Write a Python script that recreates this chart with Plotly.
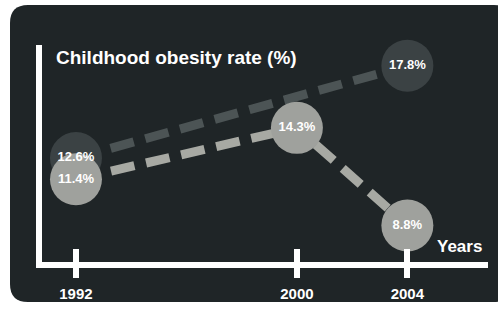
import plotly.graph_objects as go

# ---- data ----
years_a = [1992, 2004]
rate_a = [12.6, 17.8]
years_b = [1992, 2000, 2004]
rate_b = [11.4, 14.3, 8.8]
tick_years = [1992, 2000, 2004]
tick_labels = ["1992", "2000", "2004"]
title_text = "Childhood obesity rate (%)"
x_title = "Years"

BG = "#1f2527"
DARK_DOT = "#3b4244"
DARK_LINE = "#4c5455"
LIGHT_DOT = "#9fa19d"
LIGHT_LINE = "#a7a9a3"
FONT = "Liberation Sans, Arial, sans-serif"

fig = go.Figure()

# series A (dark)
fig.add_trace(go.Scatter(
    x=years_a, y=rate_a, mode="lines+markers",
    line=dict(color=DARK_LINE, width=9, dash="24px,12px"),
    marker=dict(size=52, color=DARK_DOT, line=dict(width=0)),
    hoverinfo="skip", showlegend=False, cliponaxis=False))

# series B (light)
fig.add_trace(go.Scatter(
    x=years_b, y=rate_b, mode="lines+markers",
    line=dict(color=LIGHT_LINE, width=9, dash="24px,12px"),
    marker=dict(size=52, color=LIGHT_DOT, line=dict(width=0)),
    hoverinfo="skip", showlegend=False, cliponaxis=False))

# value labels on top
for xs, ys in ((years_a, rate_a), (years_b, rate_b)):
    fig.add_trace(go.Scatter(
        x=xs, y=ys, mode="text",
        text=[f"{v:.1f}%" for v in ys], textposition="middle center",
        textfont=dict(family=FONT, size=13, color="white", weight="bold"),
        hoverinfo="skip", showlegend=False, cliponaxis=False))

W, H = 498, 312
L, R, T, B = 42, 10, 45, 47

# rounded dark panel (pixel-sized path anchored at plot-area bottom-left)
x0, x1, yb, yt, r = -32, 470, -40, 257, 18
path = (f"M {x0+r},{yt} L {x1-r},{yt} Q {x1},{yt} {x1},{yt-r} "
        f"L {x1},{yb+r} Q {x1},{yb} {x1-r},{yb} L {x0+r},{yb} "
        f"Q {x0},{yb} {x0},{yb+r} L {x0},{yt-r} Q {x0},{yt} {x0+r},{yt} Z")
fig.add_shape(type="path", path=path, xref="paper", yref="paper",
              xsizemode="pixel", ysizemode="pixel", xanchor=0, yanchor=0,
              fillcolor=BG, line=dict(width=0), layer="below")

fig.update_layout(
    width=W, height=H,
    margin=dict(l=L, r=R, t=T, b=B),
    paper_bgcolor="white",
    plot_bgcolor="rgba(0,0,0,0)",
    font=dict(family=FONT, color="white"),
    xaxis=dict(
        range=[1990.77, 2006.92],
        showgrid=False, zeroline=False,
        showline=True, linecolor="white", linewidth=6,
        tickmode="array", tickvals=tick_years, ticktext=tick_labels,
        ticks="outside", ticklen=10, tickwidth=6, tickcolor="white",
        ticklabelstandoff=3,
        tickfont=dict(family=FONT, size=15, color="white", weight="bold"),
        minor=dict(ticks="inside", tickmode="array", tickvals=tick_years,
                   ticklen=13, tickwidth=6, tickcolor="white", showgrid=False),
    ),
    yaxis=dict(
        range=[6.744, 18.967],
        showgrid=False, zeroline=False, showticklabels=False,
        showline=True, linecolor="white", linewidth=6, ticks="",
    ),
    annotations=[
        dict(text=title_text, xref="paper", yref="paper", x=0.028, y=1.0,
             xanchor="left", yanchor="top", showarrow=False,
             font=dict(family=FONT, size=19, color="white", weight="bold")),
        dict(text=x_title, xref="paper", yref="paper", x=0.99, y=0.02,
             xanchor="right", yanchor="bottom", showarrow=False,
             font=dict(family=FONT, size=17, color="white", weight="bold")),
    ],
)

fig.write_html(
    "out.html",
    config={"displayModeBar": False},
    post_script="document.body.style.margin='0';document.body.style.overflow='hidden';",
)
